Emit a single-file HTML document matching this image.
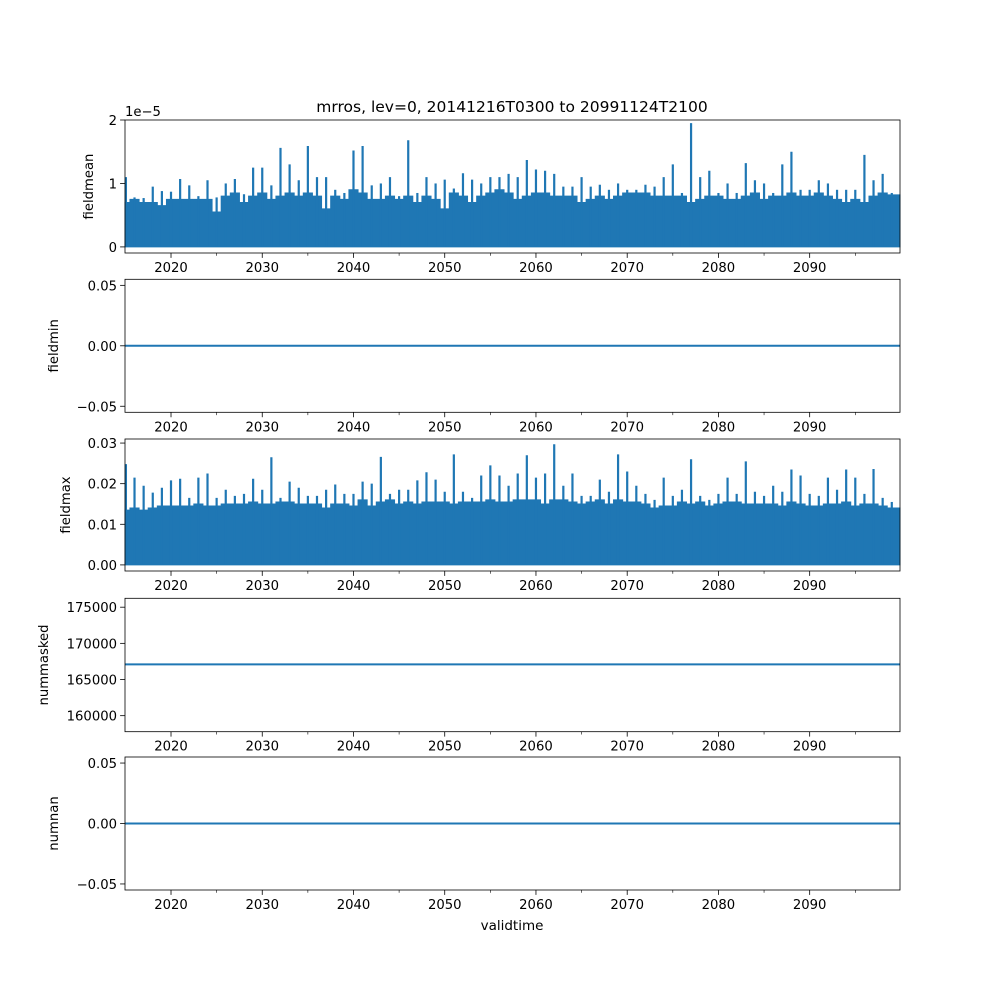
<!DOCTYPE html>
<html><head><meta charset="utf-8">
<style>
body{margin:0;background:#fff;}
svg text{font-family:"DejaVu Sans","Liberation Sans",sans-serif;fill:#000;}
</style></head>
<body>
<svg id="fig" width="1000" height="1000" xmlns="http://www.w3.org/2000/svg">
<rect width="1000" height="1000" fill="#fff"/>
<text x="512" y="112" font-size="15.5" text-anchor="middle">mrros, lev=0, 20141216T0300 to 20991124T2100</text>
<text x="512" y="930" font-size="13.5" text-anchor="middle">validtime</text>
</svg>
<script>
// ---- data ----
const years = [];
for (let y = 2015; y <= 2099; y++) years.push(y);
const meanEnv = [0.7,0.75,0.7,0.7,0.65,0.75,0.75,0.75,0.75,0.75,0.55,0.8,0.85,0.7,0.8,0.85,0.75,0.8,0.85,0.8,0.85,0.8,0.6,0.8,0.75,0.9,0.85,0.75,0.75,0.8,0.75,0.8,0.7,0.8,0.75,0.6,0.85,0.8,0.7,0.8,0.85,0.9,0.85,0.75,0.8,0.85,0.85,0.8,0.8,0.8,0.7,0.75,0.8,0.75,0.8,0.85,0.85,0.85,0.8,0.8,0.8,0.8,0.7,0.75,0.8,0.8,0.75,0.75,0.8,0.85,0.75,0.8,0.8,0.85,0.8,0.8,0.85,0.8,0.75,0.7,0.75,0.7,0.8,0.85,0.82];
const meanPeak = [1.1,0.78,0.77,0.95,0.88,0.87,1.07,0.97,0.8,1.05,0.78,1.0,1.07,0.83,1.25,1.25,0.97,1.56,1.3,1.05,1.59,1.1,1.1,0.9,0.85,1.52,1.59,0.97,1.0,1.1,0.8,1.68,0.85,1.1,1.0,1.06,0.92,1.16,1.06,1.0,1.1,1.1,1.15,1.1,1.37,1.22,1.2,1.15,0.95,0.95,1.1,0.95,0.98,0.9,1.0,0.9,0.9,0.98,0.95,1.1,1.3,0.85,1.95,1.1,1.2,0.85,1.0,0.85,1.32,1.05,1.0,0.85,1.3,1.5,0.9,0.9,1.05,1.0,0.9,0.9,0.9,1.45,1.05,1.15,0.85];
const maxEnv = [1.35,1.4,1.35,1.4,1.45,1.45,1.45,1.45,1.5,1.45,1.45,1.5,1.5,1.5,1.55,1.5,1.5,1.55,1.55,1.5,1.5,1.5,1.4,1.5,1.5,1.45,1.6,1.45,1.55,1.6,1.5,1.55,1.5,1.55,1.55,1.55,1.5,1.55,1.55,1.55,1.6,1.55,1.55,1.6,1.6,1.6,1.5,1.6,1.6,1.55,1.5,1.55,1.6,1.5,1.6,1.55,1.55,1.5,1.4,1.45,1.45,1.55,1.5,1.55,1.45,1.5,1.55,1.55,1.5,1.5,1.5,1.5,1.45,1.55,1.5,1.45,1.45,1.5,1.5,1.55,1.45,1.5,1.5,1.45,1.4];
const maxPeak = [2.48,2.15,1.95,1.78,1.9,2.08,2.12,1.65,2.15,2.25,1.65,1.85,1.7,1.75,2.12,1.85,2.65,1.65,2.05,1.9,1.7,1.7,1.85,1.98,1.75,1.75,2.05,2.0,2.66,1.75,1.85,1.85,2.08,2.28,2.1,1.8,2.72,1.8,1.65,2.2,2.45,2.2,1.95,2.25,2.7,2.15,2.25,2.97,1.95,2.25,1.7,1.7,2.1,1.8,2.72,2.3,1.95,1.75,1.6,2.15,1.7,1.85,2.6,1.7,1.6,1.75,2.15,1.75,2.55,1.8,1.7,1.95,1.8,2.35,2.2,1.75,1.7,2.15,1.85,2.35,2.15,1.75,2.36,1.65,1.55];
const fieldminVal = 0.0;
const nummaskedVal = 167090;
const numnanVal = 0.0;
const xTicks = [2020,2030,2040,2050,2060,2070,2080,2090];
const xMinor = [2025,2035,2045,2055,2065,2075,2085,2095];

const NS = "http://www.w3.org/2000/svg";
const svg = document.getElementById('fig');
const X0 = 2014.957, X1 = 2099.9, L = 125, R = 900;
const C = '#1f77b4';
function xs(v){ return L + (v - X0) / (X1 - X0) * (R - L); }
function mk(tag, attrs, parent){
  const e = document.createElementNS(NS, tag);
  for (const k in attrs) e.setAttribute(k, attrs[k]);
  (parent || svg).appendChild(e);
  return e;
}
function makeY(top, h, lo, hi){ return v => top + h - (v - lo) / (hi - lo) * h; }

function panel(name, top, h, lo, hi, yticks, ylabels, ylabelText, ylabelX){
  const g = mk('g', {});
  
  
  const ys = makeY(top, h, lo, hi);
  xTicks.forEach(t => {
    const x = xs(t);
    const tk = mk('line', {x1:x, x2:x, y1:top+h, y2:top+h+4.9, stroke:'#000', 'stroke-width':0.8}, g);
    
    
    const tl = mk('text', {x:x, y:top+h+19, 'font-size':13.2, 'text-anchor':'middle'}, g);
    tl.textContent = t;
    
    
  });
  xMinor.forEach(t => {
    const x = xs(t);
    const tk = mk('line', {x1:x, x2:x, y1:top+h, y2:top+h+2.8, stroke:'#000', 'stroke-width':0.6}, g);
    
    
  });
  yticks.forEach((t, i) => {
    const y = ys(t);
    const tk = mk('line', {x1:L-4.9, x2:L, y1:y, y2:y, stroke:'#000', 'stroke-width':0.8}, g);
    
    
    const tl = mk('text', {x:L-8, y:y+5, 'font-size':13.2, 'text-anchor':'end'}, g);
    tl.textContent = ylabels[i];
    
    
  });
  const yl = mk('text', {x:ylabelX, y:top+h/2, 'font-size':13.2, 'text-anchor':'middle', transform:`rotate(-90 ${ylabelX} ${top+h/2})`}, g);
  yl.textContent = ylabelText;
  
  
  return {g, ys, top, h};
}

function frame(p){
  const f = mk('rect', {x:L, y:p.top, width:R-L, height:p.h, fill:'none', stroke:'#000', 'stroke-width':0.8}, p.g);
  
  
}

function dense(p, env, peak, name){
  const ys = p.ys;
  let d = `M${L},${ys(0)}`;
  const last = years.length - 1;
  years.forEach((yr, i) => {
    const a = Math.max(yr - 0.5, X0);
    const b = i === last ? X1 : Math.min(yr + 0.5, X1);
    d += ` L${xs(a)},${ys(env[i])} L${xs(b)},${ys(env[i])}`;
  });
  d += ` L${R},${ys(0)} Z`;
  const area = mk('path', {d:d, fill:C, stroke:C, 'stroke-width':1}, p.g);
  
  
  years.forEach((yr, i) => {
    const x = xs(Math.min(Math.max(yr, X0 + 0.1), X1 - 0.1));
    const s = mk('line', {x1:x, x2:x, y1:ys(0), y2:ys(peak[i]), stroke:C, 'stroke-width':2.2}, p.g);
    
    
  });
}

function flat(p, v, name){
  const y = p.ys(v);
  const l = mk('line', {x1:L, x2:R, y1:y, y2:y, stroke:C, 'stroke-width':2}, p.g);
  
  
}

const p1 = panel('fieldmean', 120, 133, -0.096, 2.0, [0,1,2], ['0','1','2'], 'fieldmean', 93);
dense(p1, meanEnv, meanPeak, 'fieldmean');
frame(p1);
const off = mk('text', {x:125, y:116, 'font-size':13.2}, p1.g);
off.textContent = '1e\u22125';



const p2 = panel('fieldmin', 279.3, 133, -0.055, 0.055, [-0.05,0,0.05], ['\u22120.05','0.00','0.05'], 'fieldmin', 58);
flat(p2, fieldminVal, 'fieldmin');
frame(p2);

const p3 = panel('fieldmax', 439, 132, -0.15, 3.1, [0,1,2,3], ['0.00','0.01','0.02','0.03'], 'fieldmax', 70);
dense(p3, maxEnv, maxPeak, 'fieldmax');
frame(p3);

const p4 = panel('nummasked', 598.3, 133.4, 157784, 176230, [160000,165000,170000,175000], ['160000','165000','170000','175000'], 'nummasked', 48);
flat(p4, nummaskedVal, 'nummasked');
frame(p4);

const p5 = panel('numnan', 757, 133, -0.055, 0.055, [-0.05,0,0.05], ['\u22120.05','0.00','0.05'], 'numnan', 58);
flat(p5, numnanVal, 'numnan');
frame(p5);
</script>
</body></html>
